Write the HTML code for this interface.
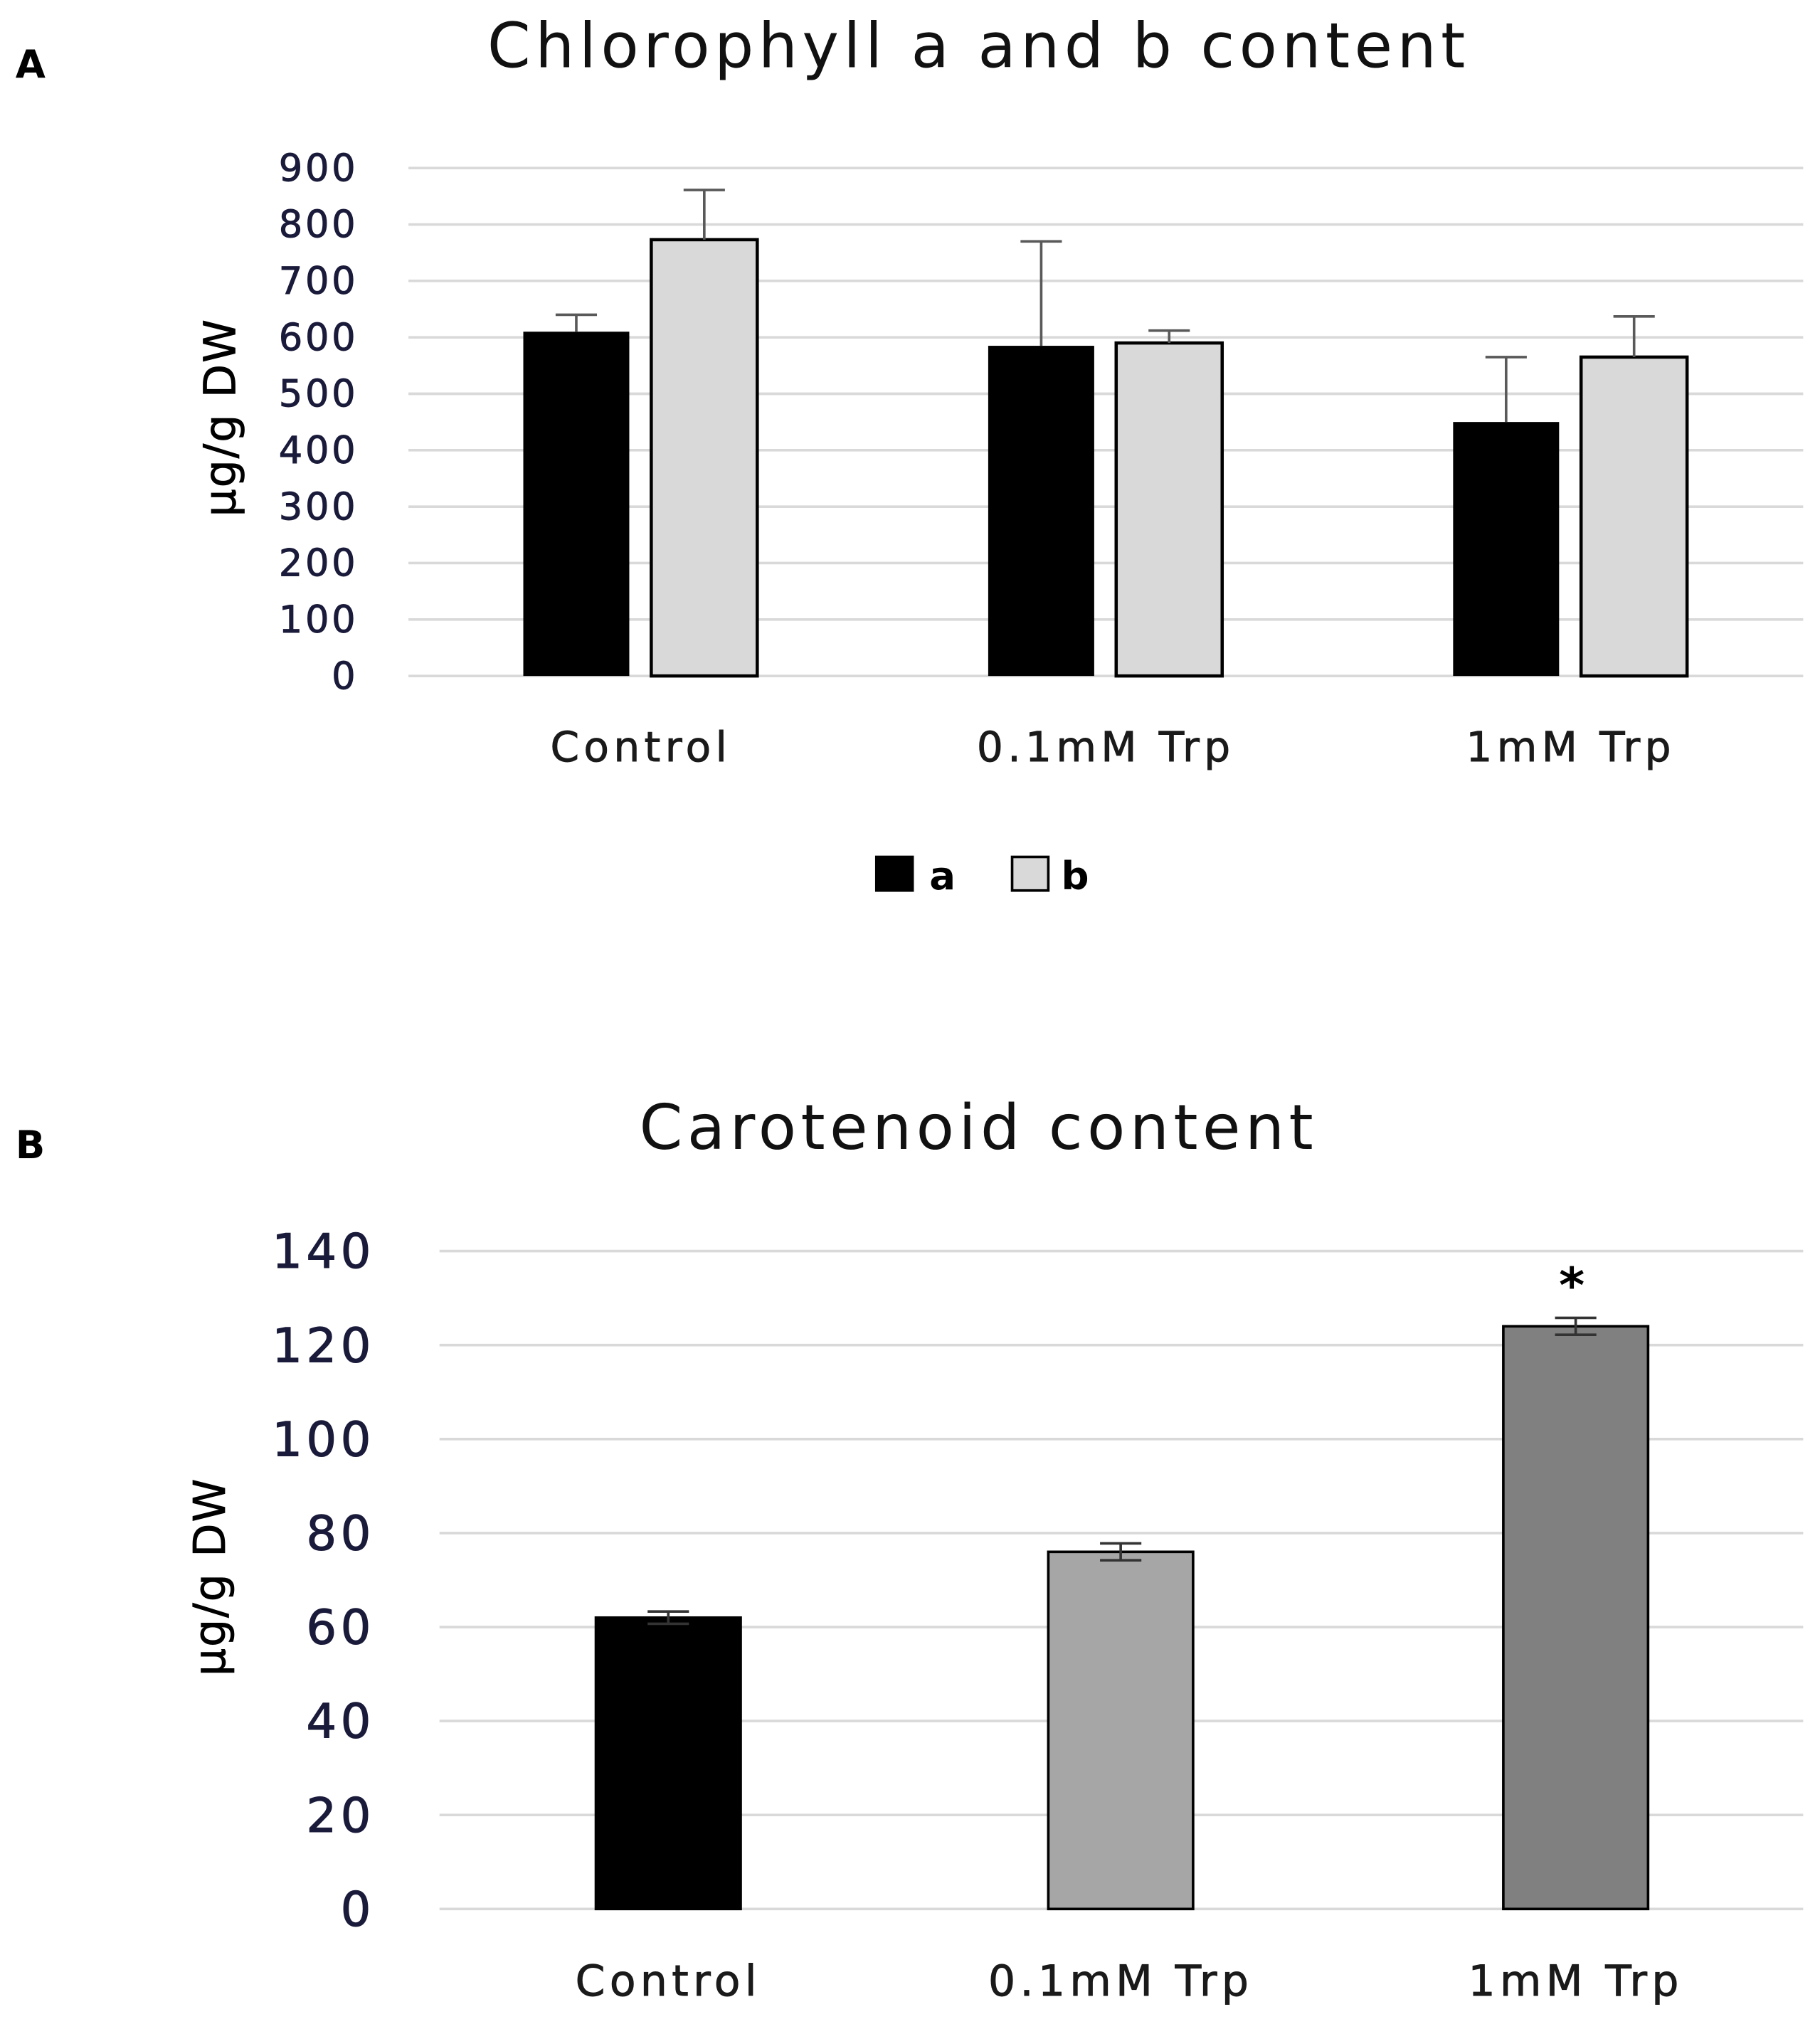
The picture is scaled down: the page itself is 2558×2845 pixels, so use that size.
<!DOCTYPE html>
<html><head><meta charset="utf-8"><style>
html,body{margin:0;padding:0;background:#fff}
svg{display:block}
text{font-family:"DejaVu Sans","Liberation Sans",sans-serif}
</style></head><body>
<svg id="fig" width="2558" height="2845" viewBox="0 0 1408 1566" preserveAspectRatio="none" xmlns="http://www.w3.org/2000/svg">
<text x="12" y="60" font-size="30" font-weight="bold">A</text>
<text x="757" y="52" font-size="48" letter-spacing="3.5" text-anchor="middle" fill="#111">Chlorophyll a and b content</text>
<text transform="translate(182,323) rotate(-90)" font-size="34" letter-spacing="1" text-anchor="middle" stroke="#000" stroke-width="0.4">µg/g DW</text>
<g id="ga"></g>
<rect x="677" y="662" width="30" height="28" fill="#000"/>
<text x="719" y="688" font-size="30" font-weight="bold">a</text>
<rect x="783" y="663" width="28" height="26" fill="#d9d9d9" stroke="#000" stroke-width="2"/>
<text x="821" y="688" font-size="30" font-weight="bold">b</text>

<text x="12" y="896" font-size="30" font-weight="bold">B</text>
<text x="757" y="889" font-size="48" letter-spacing="3.5" text-anchor="middle" fill="#111">Carotenoid content</text>
<text transform="translate(174,1220) rotate(-90)" font-size="34" letter-spacing="1" text-anchor="middle" stroke="#000" stroke-width="0.4">µg/g DW</text>
<g id="gb"></g>
</svg>
<script>
const catsA = ["Control","0.1mM Trp","1mM Trp"];
const valsA = [610, 585, 450];
const errA = [30, 185, 115];
const valsB_chl = [773, 590, 565];
const errB_chl = [88, 22, 72];
const ticksA = [0,100,200,300,400,500,600,700,800,900];

const catsC = ["Control","0.1mM Trp","1mM Trp"];
const valsC = [62, 76, 124];
const errC = [1.3, 1.8, 1.8];
const ticksC = [0,20,40,60,80,100,120,140];
const colorsC = ["#000","#a6a6a6","#808080"];

const NS="http://www.w3.org/2000/svg";
function mk(p,tag,attrs){const e=document.createElementNS(NS,tag);for(const k in attrs)e.setAttribute(k,attrs[k]);p.appendChild(e);return e;}

const ga=document.getElementById('ga');
const yA=v=>523-(v/900)*(523-130);
const x0A=316,x1A=1395,cw=(x1A-x0A)/3;
ticksA.forEach(t=>{
  const l=mk(ga,'line',{x1:x0A,x2:x1A,y1:yA(t),y2:yA(t),stroke:'#d9d9d9','stroke-width':2});
  
  
  const tx=mk(ga,'text',{x:277,y:yA(t)+10,'font-size':29,'letter-spacing':2,'text-anchor':'end',fill:'#1a1a3a',stroke:'#1a1a3a','stroke-width':0.5});
  tx.textContent=t;
  
  
});
function errBar(g,cx,top,e,yf,hw,nm){
  const y2=yf(e);
  const l=mk(g,'line',{x1:cx,x2:cx,y1:top,y2:y2,stroke:'#595959','stroke-width':2});
  
  
  const c=mk(g,'line',{x1:cx-16,x2:cx+16,y1:y2,y2:y2,stroke:'#595959','stroke-width':2});
  
  
}
catsA.forEach((c,i)=>{
  const cx=x0A+cw*(i+0.5);
  const bw=82;
  const xa=cx-bw-9, xb=cx+8;
  const ra=mk(ga,'rect',{x:xa,y:yA(valsA[i]),width:bw,height:yA(0)-yA(valsA[i]),fill:'#000'});
  
  
  const rb=mk(ga,'rect',{x:xb,y:yA(valsB_chl[i]),width:bw,height:yA(0)-yA(valsB_chl[i]),fill:'#d9d9d9',stroke:'#000','stroke-width':2.5});
  
  
  errBar(ga,xa+bw/2,yA(valsA[i]),valsA[i]+errA[i],yA,16,'error-bar-a-'+i);
  errBar(ga,xb+bw/2,yA(valsB_chl[i]),valsB_chl[i]+errB_chl[i],yA,16,'error-bar-b-'+i);
  const t=mk(ga,'text',{x:cx,y:589,'font-size':32,'letter-spacing':3.5,'text-anchor':'middle',fill:'#1a1a1a',stroke:'#1a1a1a','stroke-width':0.5});
  t.textContent=c;
  
  
});

const gb=document.getElementById('gb');
const yC=v=>1477-(v/140)*(1477-968);
const x0C=340,x1C=1395;
const centersC=[517,867,1219];
ticksC.forEach(t=>{
  const l=mk(gb,'line',{x1:x0C,x2:x1C,y1:yC(t),y2:yC(t),stroke:'#d9d9d9','stroke-width':2});
  
  
  const tx=mk(gb,'text',{x:290,y:yC(t)+13,'font-size':37,'letter-spacing':3,'text-anchor':'end',fill:'#1a1a3a',stroke:'#1a1a3a','stroke-width':0.6});
  tx.textContent=t;
  
  
});
catsC.forEach((c,i)=>{
  const cx=centersC[i], bw=112;
  const r=mk(gb,'rect',{x:cx-bw/2,y:yC(valsC[i]),width:bw,height:yC(0)-yC(valsC[i]),fill:colorsC[i],stroke:'#000','stroke-width':2});
  
  
  const y1=yC(valsC[i]+errC[i]), y2=yC(valsC[i]-errC[i]);
  const el=mk(gb,'line',{x1:cx,x2:cx,y1:y1,y2:y2,stroke:'#333','stroke-width':2});
  
  
  [y1,y2].forEach(yy=>{
    const cp=mk(gb,'line',{x1:cx-16,x2:cx+16,y1:yy,y2:yy,stroke:'#333','stroke-width':2});
    
    
  });
  const t=mk(gb,'text',{x:cx,y:1544,'font-size':33,'letter-spacing':3.5,'text-anchor':'middle',fill:'#1a1a1a',stroke:'#1a1a1a','stroke-width':0.5});
  t.textContent=c;
  
  
});
const st=mk(gb,'text',{x:centersC[2]-3,y:yC(valsC[2]+errC[2])-12,'font-size':38,'text-anchor':'middle','font-weight':'bold'});
st.textContent='*';


</script>
</body></html>
